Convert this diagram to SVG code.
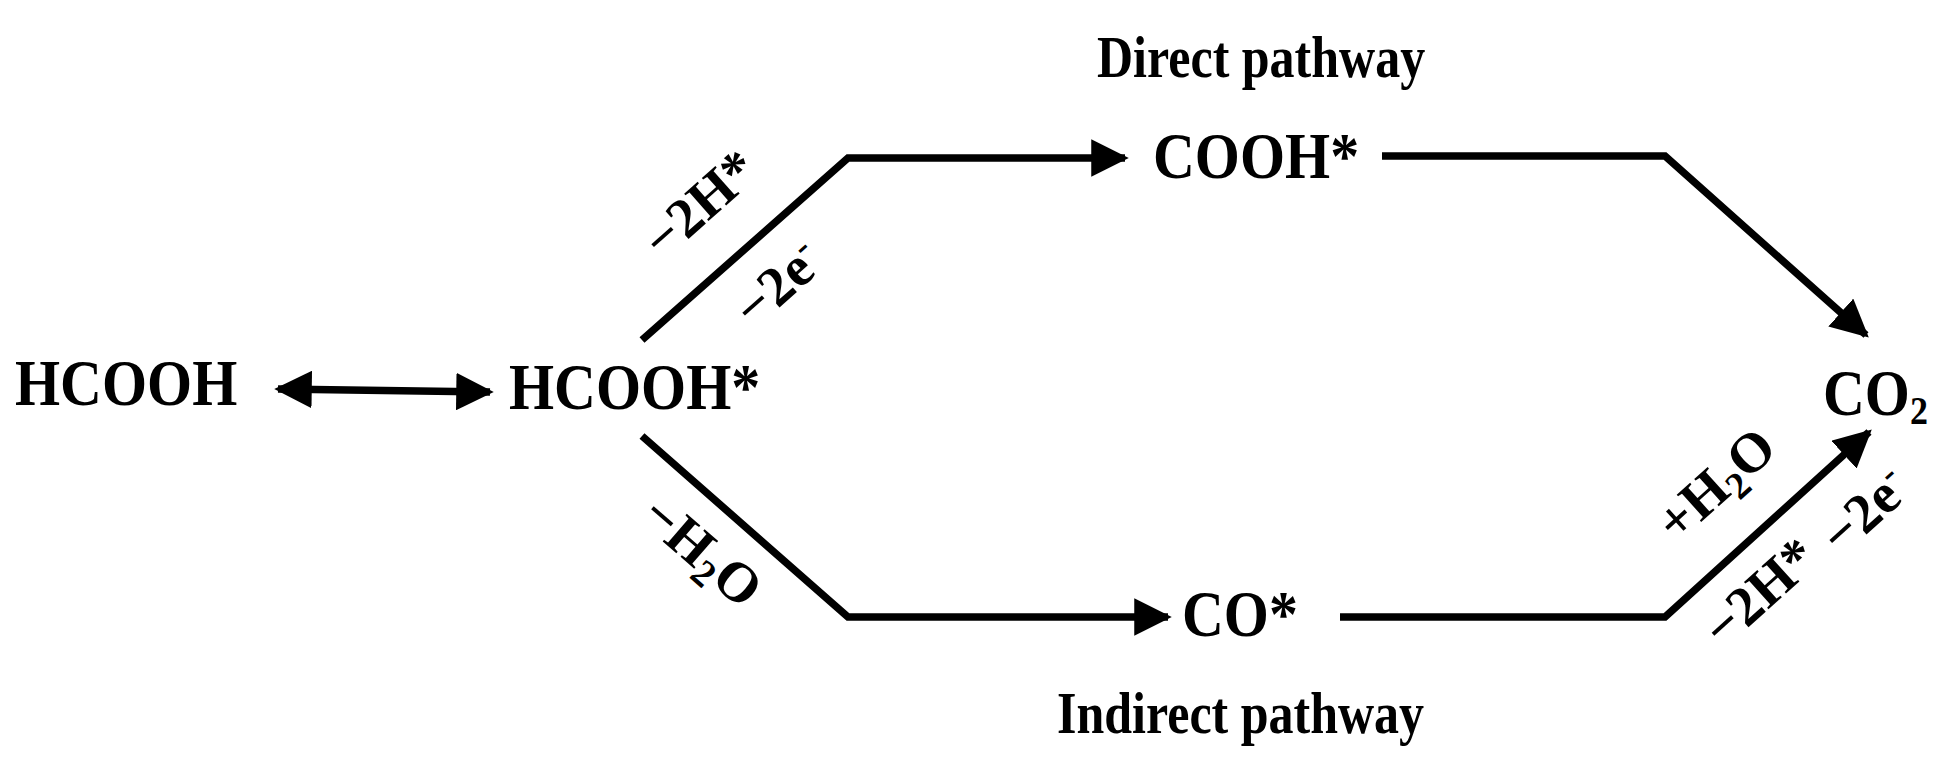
<svg xmlns="http://www.w3.org/2000/svg" width="1946" height="773" viewBox="0 0 1946 773">
<style>
text{font-family:"Liberation Serif","Times New Roman",serif;font-weight:bold;fill:#000}
.n{font-size:58px}
.t{font-size:50px}
.l{font-size:56px;text-anchor:middle}
.c{fill:none;stroke:#000;stroke-width:7.5;stroke-linejoin:miter}
</style>
<defs>
<marker id="a" viewBox="0 0 10 10" refX="9" refY="5" markerWidth="5" markerHeight="5" orient="auto-start-reverse" markerUnits="strokeWidth"><path d="M0,0L10,5L0,10z" fill="#000"/></marker>
</defs>
<rect width="1946" height="773" fill="#fff"/>
<g id="connectors">
<line class="c" x1="278" y1="389" x2="490" y2="392" marker-start="url(#a)" marker-end="url(#a)"/>
<polyline class="c" points="642,340 848,158 1125,158" marker-end="url(#a)"/>
<polyline class="c" points="1382,156 1665,156 1866,335" marker-end="url(#a)"/>
<polyline class="c" points="642,436 848,617 1168,617" marker-end="url(#a)"/>
<polyline class="c" points="1340,617 1665,617 1869,432" marker-end="url(#a)"/>
</g>
<g id="HCOOH"><text class="n" transform="translate(15,405) scale(1,1.12)">HCOOH</text></g>
<g id="HCOOHads"><text class="n" transform="translate(509,409) scale(1,1.12)">HCOOH*</text></g>
<g id="COOHads"><text class="n" transform="translate(1153,178) scale(1,1.12)">COOH*</text></g>
<g id="COads"><text class="n" transform="translate(1182,636) scale(1,1.12)">CO*</text></g>
<g id="CO2"><text class="n" transform="translate(1823,415) scale(1,1.12)">CO<tspan font-size="36" dy="8">2</tspan></text></g>
<g id="titles">
<text class="t" transform="translate(1097,77) scale(1,1.2)">Direct pathway</text>
<text class="t" transform="translate(1057,733) scale(1,1.2)">Indirect pathway</text>
</g>
<g id="labels">
<text class="l" transform="translate(712,218) rotate(-41.5)">−2H*</text>
<text class="l" transform="translate(790,298) rotate(-41.5)">−2e<tspan font-size="36" dy="-20">-</tspan></text>
<text class="l" transform="translate(690,565) rotate(41)">−H<tspan font-size="38" dy="10">2</tspan><tspan dy="-10">O</tspan></text>
<text class="l" transform="translate(1728,498) rotate(-42)">+H<tspan font-size="38" dy="10">2</tspan><tspan dy="-10">O</tspan></text>
<text class="l" transform="translate(1772,606) rotate(-42)">−2H*</text>
<text class="l" transform="translate(1877,525) rotate(-42)">−2e<tspan font-size="36" dy="-20">-</tspan></text>
</g>
</svg>
